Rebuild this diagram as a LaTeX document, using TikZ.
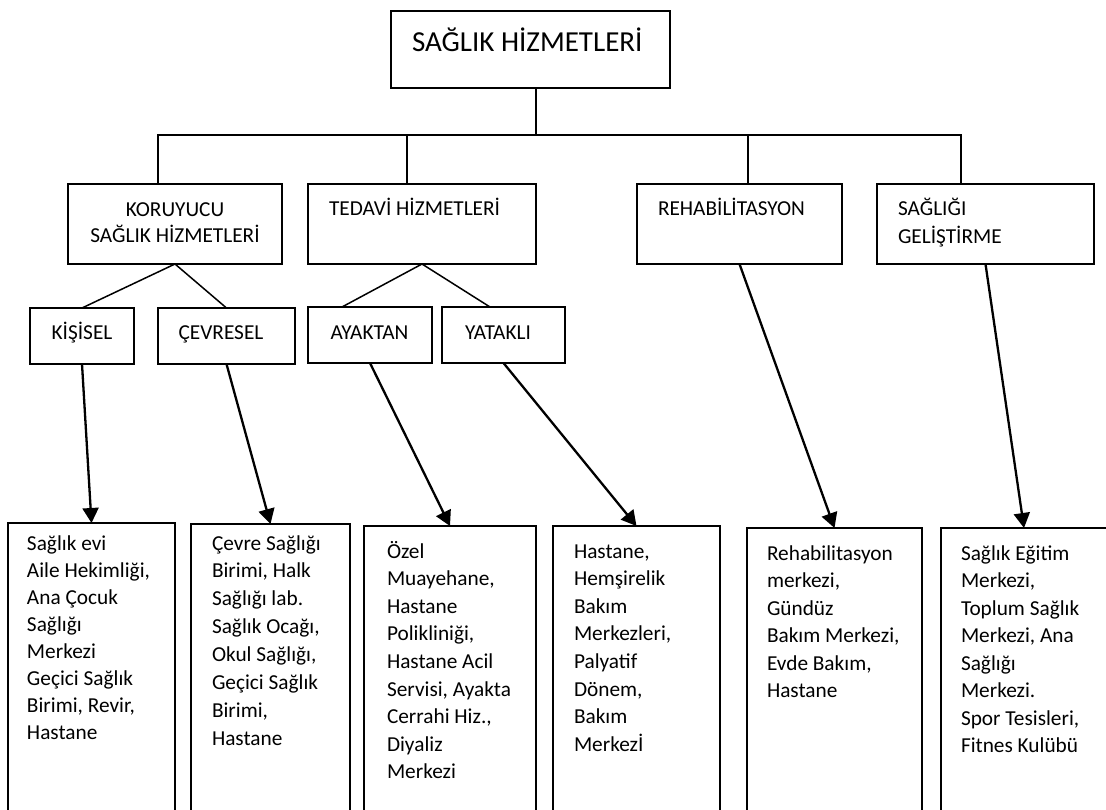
\documentclass[tikz,border=0pt]{standalone}
\usepackage{fontspec}
\setmainfont{Carlito}
\usetikzlibrary{arrows.meta,calc}
\begin{document}
\begin{tikzpicture}[x=1pt,y=-1pt,
  box/.style={draw, line width=1.8pt, inner sep=0pt, outer sep=0pt, rectangle},
  lbl/.style={inner sep=0pt, outer sep=0pt, font=\fontsize{21.3}{27.5}\selectfont, align=left},
  link/.style={line width=1.5pt},
  arr/.style={line width=2.3pt, -{Triangle[width=16pt,length=15pt]}}]
\useasboundingbox (0,0) rectangle (1106,810);
\fill[white] (0,0) rectangle (1106,810);
\clip (0,0) rectangle (1106,810);

% top
\node[box, minimum width=279pt, minimum height=77pt] (top) at (530.5,49.5) {};
\node[lbl, font=\fontsize{29}{35}\selectfont, anchor=base west] (toptxt) at (412,52) {SAĞLIK HİZMETLERİ};

% level 2
\node[box, minimum width=214pt, minimum height=80pt] (koru) at (175,224) {};
\node[box, minimum width=228pt, minimum height=80pt] (ted) at (422,224) {};
\node[box, minimum width=205pt, minimum height=80pt] (reh) at (739.5,224) {};
\node[box, minimum width=217pt, minimum height=80pt] (sag) at (985.5,224) {};
% (for multi-line texts the base anchor lies on the last line)
\node[lbl, align=center, anchor=base, font=\fontsize{21.3}{26}\selectfont] (korutxt) at (175,243) {KORUYUCU\\SAĞLIK HİZMETLERİ};
\node[lbl, anchor=base west] (tedtxt) at (329,216) {TEDAVİ HİZMETLERİ};
\node[lbl, anchor=base west] (rehtxt) at (658,216) {REHABİLİTASYON};
\node[lbl, anchor=base west, font=\fontsize{21.3}{28}\selectfont] (sagtxt) at (898,244) {SAĞLIĞI\\GELİŞTİRME};

% level 3
\node[box, minimum width=104pt, minimum height=56pt] (kis) at (82,336) {};
\node[box, minimum width=137pt, minimum height=56pt] (cev) at (226.5,336) {};
\node[box, minimum width=124pt, minimum height=56pt] (aya) at (370,335) {};
\node[box, minimum width=123pt, minimum height=56pt] (yat) at (503.5,335) {};
\node[lbl, anchor=base] (kistxt) at (82,340) {KİŞİSEL};
\node[lbl, anchor=base] (cevtxt) at (221,340) {ÇEVRESEL};
\node[lbl, anchor=base] (ayatxt) at (369.5,340) {AYAKTAN};
\node[lbl, anchor=base] (yattxt) at (498,340) {YATAKLI};

% bottom boxes
\node[box, minimum width=167pt, minimum height=300pt] (b1) at (91.5,673) {};
\node[box, minimum width=159pt, minimum height=300pt] (b2) at (270.5,674) {};
\node[box, minimum width=172pt, minimum height=300pt] (b3) at (450,676) {};
\node[box, minimum width=167pt, minimum height=300pt] (b4) at (636.5,676) {};
\node[box, minimum width=175pt, minimum height=300pt] (b5) at (834.5,678) {};
\node[box, minimum width=166pt, minimum height=300pt] (b6) at (1024,678) {};

\node[lbl, anchor=base west, font=\fontsize{21.3}{27.1}\selectfont] (t1) at (27,739.7) {Sağlık evi\\Aile Hekimliği,\\Ana Çocuk\\Sağlığı\\Merkezi\\Geçici Sağlık\\Birimi, Revir,\\Hastane};
\node[lbl, anchor=base west, font=\fontsize{21.3}{27.9}\selectfont] (t2) at (212,745.3) {Çevre Sağlığı\\Birimi, Halk\\Sağlığı lab.\\Sağlık Ocağı,\\Okul Sağlığı,\\Geçici Sağlık\\Birimi,\\Hastane};
\node[lbl, anchor=base west, font=\fontsize{21.3}{27.6}\selectfont] (t3) at (387,778.8) {Özel\\Muayehane,\\Hastane\\Polikliniği,\\Hastane Acil\\Servisi, Ayakta\\Cerrahi Hiz.,\\Diyaliz\\Merkezi};
\node[lbl, anchor=base west, font=\fontsize{21.3}{27.6}\selectfont] (t4) at (574,751.2) {Hastane,\\Hemşirelik\\Bakım\\Merkezleri,\\Palyatif\\Dönem,\\Bakım\\Merkezİ};
\node[lbl, anchor=base west, font=\fontsize{21.3}{27.5}\selectfont] (t5) at (767,697.5) {Rehabilitasyon\\merkezi,\\Gündüz\\Bakım Merkezi,\\Evde Bakım,\\Hastane};
\node[lbl, anchor=base west, font=\fontsize{21.3}{27.5}\selectfont] (t6) at (961,752.5) {Sağlık Eğitim\\Merkezi,\\Toplum Sağlık\\Merkezi, Ana\\Sağlığı\\Merkezi.\\Spor Tesisleri,\\Fitnes Kulübü};

% connectors
\coordinate (bar) at (536,135);
\draw[link] ([xshift=5.5pt]top.south) -- (bar);
\draw[link] ([xshift=-17pt]koru.north) |- (bar);
\draw[link] ([xshift=-24.5pt]sag.north) |- (bar);
\draw[link] ([xshift=-15pt]ted.north) -- ([xshift=-15pt]ted.north |- bar);
\draw[link] ([xshift=8.5pt]reh.north) -- ([xshift=8.5pt]reh.north |- bar);

\draw[link] (koru.south) -- (kis.north);
\draw[link] (koru.south) -- (cev.north);
\draw[link] (ted.south) -- ([xshift=-28pt]aya.north);
\draw[link] (ted.south) -- ([xshift=-13.5pt]yat.north);

\draw[arr] (kis.south) -- (b1.north);
\draw[arr] (cev.south) -- (b2.north);
\draw[arr] (aya.south) -- (b3.north);
\draw[arr] (yat.south) -- (b4.north);
\draw[arr] (reh.south) -- (b5.north);
\draw[arr] (sag.south) -- (b6.north);
\end{tikzpicture}
\end{document}
